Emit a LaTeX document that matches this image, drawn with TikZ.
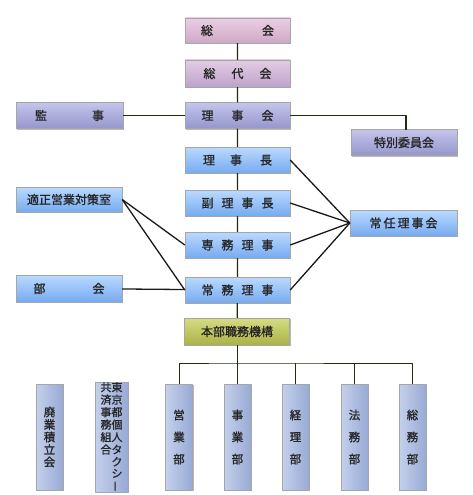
\documentclass[tikz,border=0pt]{standalone}
\usepackage{fontspec}
\newfontfamily\jp[RawFeature={embolden=1.2}]{Noto Sans CJK JP}
\usetikzlibrary{shadows}
\definecolor{spinegreen}{RGB}{30,45,15}
\definecolor{pinkT}{RGB}{236,206,228}
\definecolor{pinkB}{RGB}{206,168,198}
\definecolor{lavT}{RGB}{196,196,236}
\definecolor{lavB}{RGB}{150,150,204}
\definecolor{blueT}{RGB}{186,218,255}
\definecolor{blueB}{RGB}{118,170,240}
\definecolor{oliveT}{RGB}{214,220,130}
\definecolor{oliveB}{RGB}{170,178,70}
\definecolor{steelT}{RGB}{196,208,236}
\definecolor{steelB}{RGB}{152,170,212}

\tikzset{
  box/.style={minimum width=105pt, minimum height=26pt, inner sep=0pt,
    font=\jp\fontsize{12pt}{13pt}\selectfont, text=black!85,
    draw=black!35, line width=0.4pt,
    drop shadow={shadow xshift=1.2pt, shadow yshift=-1.2pt, opacity=0.55}},
  pinkbox/.style={box, top color=pinkT, bottom color=pinkB},
  lavbox/.style={box, top color=lavT, bottom color=lavB},
  bluebox/.style={box, top color=blueT, bottom color=blueB},
  olivebox/.style={box, top color=oliveT, bottom color=oliveB},
  deptbox/.style={box, minimum width=27pt, minimum height=106pt, align=center,
    left color=steelT, right color=steelB},
  spine/.style={draw=spinegreen, line width=1.2pt},
  link/.style={draw=black!90, line width=1.3pt},
}

\begin{document}
\begin{tikzpicture}[x=1pt, y=-1pt, line join=round]
    \useasboundingbox (0,0) rectangle (473,495);

    % 中央の列
    \node[pinkbox, minimum height=25pt] (sokai) at (237.5,30.5) {総\hspace{49pt}会};
    \node[lavbox, top color=pinkT!80!lavT, bottom color=pinkB!70!lavB, minimum height=27pt] (sodaikai) at (237.5,73.5) {総\hspace{16pt}代\hspace{16pt}会};
    \node[lavbox] (rijikai) at (237.5,115.5) {理\hspace{18pt}事\hspace{18pt}会};
    \node[bluebox] (rijicho) at (237.5,160) {理\hspace{15pt}事\hspace{18pt}長};
    \node[bluebox] (fukurijicho) at (237.5,203) {副\hspace{8pt}理\hspace{8pt}事\hspace{8pt}長};
    \node[bluebox] (senmu) at (237.5,245) {専\hspace{8pt}務\hspace{8pt}理\hspace{8pt}事};
    \node[bluebox] (jomu) at (237.5,290) {常\hspace{8pt}務\hspace{8pt}理\hspace{8pt}事};
    \node[olivebox, minimum height=27pt] (honbu) at (237,331.5) {本部職務機構};

    % 左右の箱
    \node[lavbox, minimum width=107pt] (kanji) at (69.5,115.5) {監\hspace{45pt}事};
    \node[lavbox, minimum width=106pt] (tokubetsu) at (404,142.5) {特別委員会};
    \node[bluebox, minimum width=106pt, minimum height=25pt] (tekisei) at (69,199.5) {適正営業対策室};
    \node[bluebox, minimum width=106pt, minimum height=27pt] (bukai) at (69,288.5) {部\hspace{47pt}会};
    \node[bluebox, minimum width=107pt] (jonin) at (403.5,223) {常\hspace{2pt}任\hspace{2pt}理\hspace{2pt}事\hspace{2pt}会};

    % 部署
    \node[deptbox, font=\jp\fontsize{11.5pt}{12.5pt}\selectfont] (haigyo) at (49.5,437) {廃\\業\\積\\立\\会};
    \node[deptbox, minimum width=33pt, font=\jp\fontsize{11pt}{10.8pt}\selectfont] (kyosai) at (111.5,437)
      {\begin{tabular}[t]{@{}c@{\hspace{0pt}}c@{}}
        共&東\\済&京\\事&都\\務&個\\組&人\\合&タ\\&ク\\&シ\\&\rotatebox[origin=c]{90}{ー}
       \end{tabular}};
    \node[deptbox, font=\jp\fontsize{11.5pt}{22pt}\selectfont] (eigyo) at (179,437) {営\\業\\部};
    \node[deptbox, font=\jp\fontsize{11.5pt}{22pt}\selectfont] (jigyo) at (237.5,437) {事\\業\\部};
    \node[deptbox, font=\jp\fontsize{11.5pt}{22pt}\selectfont] (keiri) at (295.5,437) {経\\理\\部};
    \node[deptbox, font=\jp\fontsize{11.5pt}{22pt}\selectfont] (homu) at (354.5,437) {法\\務\\部};
    \node[deptbox, font=\jp\fontsize{11.5pt}{22pt}\selectfont] (somu) at (412.5,437) {総\\務\\部};

    % 縦の幹線
    \draw[spine] (sokai) -- (sodaikai) -- (rijikai) -- (rijicho) -- (fukurijicho) -- (senmu) -- (jomu) -- (honbu);
    \draw[spine] (kanji) -- (rijikai);
    \draw[spine] (rijikai.east) -- (rijikai.east -| 406,0) -- (406,130);

    % 常任理事会への線
    \coordinate (joninL) at (jonin.west);
    \foreach \n in {rijicho, fukurijicho, senmu, jomu}
      \draw[link] (\n.east) -- (joninL);

    % 適正営業対策室・部会
    \draw[link] (tekisei.east) -- (senmu.west);
    \draw[link] (tekisei.east) -- (jomu.west);
    \draw[link] (bukai) -- (jomu);

    % 本部職務機構の下
    \coordinate (bus) at (237,363);
    \draw[spine, line width=1pt] (honbu) -- (bus);
    \draw[spine, line width=1pt] (eigyo.north) |- (bus) -| (somu.north);
    \foreach \n in {jigyo, keiri, homu}
      \draw[spine, line width=1pt] (\n.north) -- (\n.north |- bus);
\end{tikzpicture}
\end{document}
